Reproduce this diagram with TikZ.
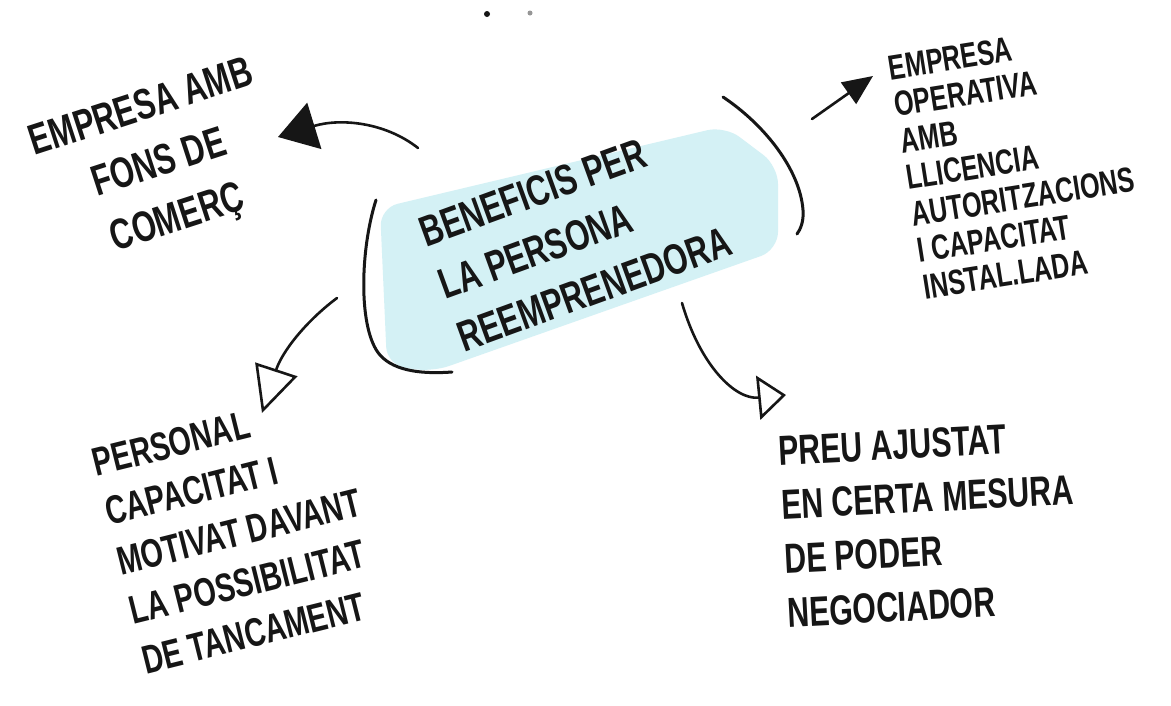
\documentclass[tikz,border=0pt]{standalone}
\usepackage{fontspec}
\setmainfont{Liberation Sans}
\newfontfamily\hand[FakeStretch=0.72]{Liberation Sans}
\usetikzlibrary{arrows.meta}
\definecolor{ink}{RGB}{22,22,22}
\definecolor{hl}{RGB}{212,241,245}
\definecolor{dotgray}{RGB}{150,150,150}
\begin{document}
\begin{tikzpicture}[x=1pt,y=-1pt,
  txt/.style={text=ink, inner sep=0pt},
  stroke/.style={draw=ink, line width=3pt, line cap=round, line join=round},
  conn/.style={draw=ink, line width=2.6pt, line cap=round, line join=round},
]
\useasboundingbox (0,0) rectangle (1171,705);
\fill[white] (0,0) rectangle (1171,705);

% stray dots at the top
\fill[ink] (487,14) circle (3);
\fill[dotgray] (530,13) circle (2.5);

% central highlight and brackets
\fill[hl, rounded corners=18] (380,208) -- (725,126) -- (778,166) -- (778,250) -- (432,372) -- (387,365) -- cycle;
\draw[stroke] (376,200) .. controls (360,250) and (358,330) .. (380,355) .. controls (395,372) and (425,374) .. (452,372);
\draw[stroke] (723,97) .. controls (765,125) and (800,170) .. (803,210) .. controls (804,222) and (800,230) .. (797,234);

% nodes
\node[txt, rotate=20, align=left, anchor=west, font=\hand\bfseries\fontsize{43}{56}\selectfont] (center) at (440,286)
  {BENEFICIS PER\\LA PERSONA\\REEMPRENEDORA};
\node[txt, rotate=18, align=center, font=\hand\bfseries\fontsize{43}{58}\selectfont] (tl) at (160,165)
  {EMPRESA AMB\\FONS DE\\COMERÇ};
\node[txt, rotate=9, align=left, anchor=west, font=\hand\bfseries\fontsize{35}{37}\selectfont] (tr) at (906,178)
  {EMPRESA\\OPERATIVA\\AMB\\LLICENCIA\\AUTORITZACIONS\\I CAPACITAT\\INSTAL.LADA};
\node[txt, rotate=14, align=left, anchor=west, font=\hand\bfseries\fontsize{40}{51}\selectfont] (bl) at (118,562)
  {PERSONAL\\CAPACITAT I\\MOTIVAT DAVANT\\LA POSSIBILITAT\\DE TANCAMENT};
\node[txt, rotate=3, align=left, anchor=west, font=\hand\bfseries\fontsize{42}{54}\selectfont] (br) at (783,532)
  {PREU AJUSTAT\\EN CERTA MESURA\\DE PODER\\NEGOCIADOR};

% connector ends
\coordinate (c1) at (418,148); \coordinate (t1) at (278,137);
\coordinate (c2) at (812,119); \coordinate (t2) at (873,76);
\coordinate (c3) at (337,298); \coordinate (t3) at (262,413);
\coordinate (c4) at (682,303); \coordinate (t4) at (786,395);

\draw[conn, -{Triangle[length=38pt,width=48pt]}] (c1) .. controls (385,122) and (340,118) .. (t1);
\draw[conn, -{Triangle[length=30pt,width=26pt]}] (c2) -- (t2);
\draw[conn, -{Triangle[open,length=46pt,width=44pt]}] (c3) .. controls (305,322) and (282,352) .. (t3);
\draw[conn, -{Triangle[open,length=28pt,width=44pt]}] (c4) .. controls (700,365) and (735,400) .. (t4);
\end{tikzpicture}
\end{document}
